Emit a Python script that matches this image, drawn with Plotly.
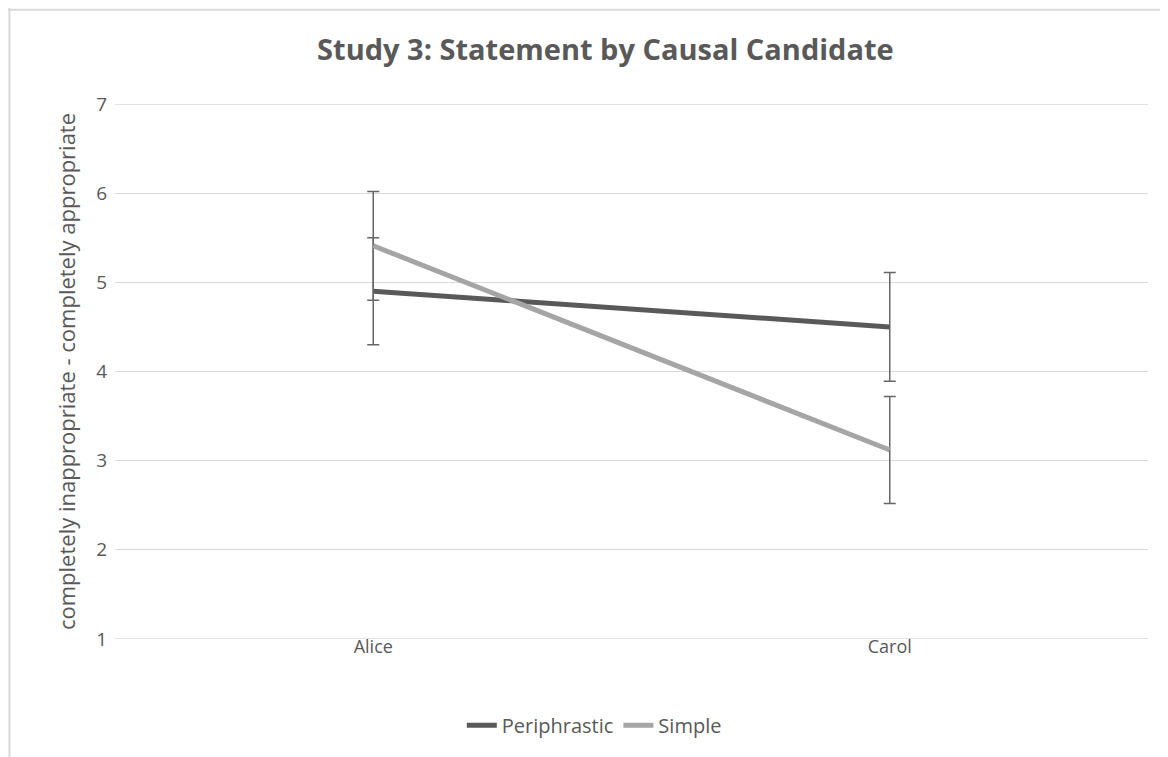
import plotly.graph_objects as go

categories = ["Alice", "Carol"]
periphrastic = [4.90, 4.50]
periphrastic_err = [0.60, 0.61]
simple = [5.41, 3.12]
simple_err = [0.61, 0.60]
y_ticks = [1, 2, 3, 4, 5, 6, 7]

fig = go.Figure()
fig.add_trace(go.Scatter(
    x=categories, y=periphrastic, name="Periphrastic", mode="lines",
    line=dict(color="#595959", width=5),
    error_y=dict(type="data", array=periphrastic_err, color="#666666", thickness=1.5, width=6),
))
fig.add_trace(go.Scatter(
    x=categories, y=simple, name="Simple", mode="lines",
    line=dict(color="#a5a5a5", width=5),
    error_y=dict(type="data", array=simple_err, color="#666666", thickness=1.5, width=6),
))

grid_shapes = [
    dict(type="line", xref="paper", yref="y", x0=0, x1=1, y0=v, y1=v, layer="below",
         line=dict(color="#d9d9d9", width=1.3))
    for v in (y_ticks[0], y_ticks[-1])
]

fig.update_layout(
    width=1160, height=749,
    margin=dict(l=107, r=20, t=96, b=118),
    paper_bgcolor="white", plot_bgcolor="white",
    font=dict(family="Open Sans, Liberation Sans, sans-serif", color="#595959"),
    title=dict(text="<b>Study 3: Statement by Causal Candidate</b>", x=0.515, xanchor="center",
               y=0.944, yanchor="middle",
               font=dict(size=29, color="#595959", family="Open Sans, sans-serif")),
    xaxis=dict(range=[-0.5, 1.5], showgrid=False, zeroline=False, showline=False,
               ticks="", tickfont=dict(size=18, color="#595959"), ticklabelstandoff=-5),
    yaxis=dict(range=[1, 7], tickvals=y_ticks, showgrid=True, gridcolor="#d9d9d9", gridwidth=1.3,
               zeroline=False, showline=False, ticks="", ticklen=0,
               tickfont=dict(size=19, color="#595959"), ticklabelstandoff=7,
               title=dict(text="completely inappropriate - completely appropriate",
                          font=dict(size=22, color="#595959"), standoff=14)),
    legend=dict(orientation="h", x=0.464, xanchor="center", y=-0.161, yanchor="middle",
                font=dict(size=20, color="#595959")),
    showlegend=True,
    shapes=grid_shapes + [
        dict(type="line", xref="paper", yref="paper", x0=-0.1022, x1=-0.1022, y0=-0.3, y1=1.2,
             line=dict(color="#d9d9d9", width=2)),
        dict(type="line", xref="paper", yref="paper", x0=-0.11, x1=1.03, y0=1.176, y1=1.176,
             line=dict(color="#d9d9d9", width=2)),
    ],
)

fig.write_html("out.html")
